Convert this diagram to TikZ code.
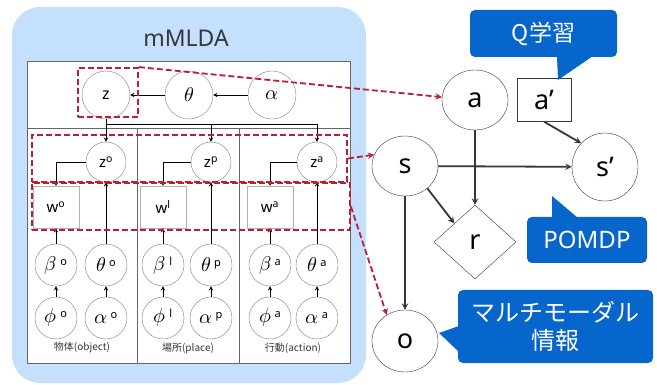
\documentclass[tikz,border=0pt]{standalone}
\usepackage{fontspec}
\usepackage{unicode-math}
\setmainfont{Noto Sans}
\setmathfont{Latin Modern Math}
\newfontfamily\jp{Noto Sans CJK JP}
\usetikzlibrary{shapes.geometric}

\definecolor{panelblue}{RGB}{197,224,252}
\definecolor{callblue}{RGB}{6,102,204}
\definecolor{dashred}{RGB}{190,30,50}
\definecolor{darkline}{RGB}{55,55,55}

% greek variable with a small upright index
\newcommand{\gvar}[2]{$#1$\,{\fontsize{11}{11}\selectfont\raisebox{5pt}{#2}}}

\begin{document}
\begin{tikzpicture}
  [x=1pt,y=-1pt,>=stealth,
   var/.style={draw=gray,circle,inner sep=0pt,minimum size=42pt,font=\fontsize{20}{20}\selectfont},
   topvar/.style={var,minimum size=48pt},
   midvar/.style={var,minimum size=40pt,font=\fontsize{15}{15}\selectfont},
   obs/.style={draw=gray!60,rectangle,inner sep=0pt,minimum width=46pt,minimum height=42pt,font=\fontsize{15}{15}\selectfont},
   link/.style={->,line width=0.9pt,black},
   redbox/.style={draw=dashred,line width=1.8pt,dash pattern=on 6pt off 3pt,inner sep=0pt},
   redarrow/.style={-{stealth[scale=1.3]},draw=dashred,line width=1.8pt,dash pattern=on 6pt off 3pt},
   mdpnode/.style={draw=darkline,ellipse,inner sep=0pt,minimum width=66pt,minimum height=60pt,font=\fontsize{27}{27}\selectfont},
   mdparrow/.style={->,draw=darkline,line width=1.8pt},
   bubble/.style={fill=callblue,rounded corners=5pt,text=white,inner sep=0pt,align=center},
   colname/.style={font=\jp\fontsize{10}{10}\selectfont,text=darkline}]
  \useasboundingbox (0,0) rectangle (657,385);

  % mMLDA panel
  \fill[panelblue,rounded corners=28pt] (12,7) rectangle (366,383);
  \node[font=\fontsize{23}{23}\selectfont,text=darkline] (title) at (186,38) {mMLDA};
  \draw[fill=white,draw=gray!80!black] (27,61) rectangle (350,363);
  \draw[gray!80!black] (27,128) -- (350,128);
  \draw[gray!80!black] (137,128) -- (137,363);
  \draw[gray!80!black] (239,128) -- (239,363);

  % shared topic
  \node (z) at (106,95)[topvar,font=\fontsize{16}{16}\selectfont]{z};
  \node (theta) at (189,95)[topvar]{$\theta$};
  \node (alpha) at (272,95)[topvar]{$\alpha$};
  \draw[link] (alpha) -- (theta);
  \draw[link] (theta) -- (z);
  \coordinate (split) at (106,124);
  \draw[line width=0.9pt] (z) -- (split);

  % object column
  \node (zo) at (106,162)[midvar]{z\textsuperscript{o}};
  \node (wo) at (56,207)[obs]{w\textsuperscript{o}};
  \node (bo) at (56,265)[var]{\gvar{\beta}{o}};
  \node (tho) at (106,265)[var]{\gvar{\theta}{o}};
  \node (fo) at (56,318)[var]{\gvar{\phi}{o}};
  \node (ao) at (106,318)[var]{\gvar{\alpha}{o}};
  \node (labo) at (82,348)[colname]{物体(object)};

  % place column
  \node (zp) at (211,162)[midvar]{z\textsuperscript{p}};
  \node (wl) at (163,207)[obs]{w\textsuperscript{l}};
  \node (bl) at (163,265)[var]{\gvar{\beta}{l}};
  \node (thp) at (211,265)[var]{\gvar{\theta}{p}};
  \node (fl) at (163,318)[var]{\gvar{\phi}{l}};
  \node (ap) at (211,318)[var]{\gvar{\alpha}{p}};
  \node (labp) at (188,348)[colname]{場所(place)};

  % action column
  \node (za) at (317,162)[midvar]{z\textsuperscript{a}};
  \node (wa) at (270,207)[obs]{w\textsuperscript{a}};
  \node (ba) at (270,265)[var]{\gvar{\beta}{a}};
  \node (tha) at (317,265)[var]{\gvar{\theta}{a}};
  \node (fa) at (270,318)[var]{\gvar{\phi}{a}};
  \node (aa) at (317,318)[var]{\gvar{\alpha}{a}};
  \node (laba) at (293,348)[colname]{行動(action)};

  \draw[link] (split) -- (zo);
  \draw[link] (split) -| (zp);
  \draw[link] (split) -| (za);
  \draw[link] (zo.west) -| (wo.north);
  \draw[link] (zp.west) -| (wl.north);
  \draw[link] (za.west) -| (wa.north);
  \draw[link] (bo) -- (wo);  \draw[link] (tho) -- (zo);
  \draw[link] (fo) -- (bo);  \draw[link] (ao) -- (tho);
  \draw[link] (bl) -- (wl);  \draw[link] (thp) -- (zp);
  \draw[link] (fl) -- (bl);  \draw[link] (ap) -- (thp);
  \draw[link] (ba) -- (wa);  \draw[link] (tha) -- (za);
  \draw[link] (fa) -- (ba);  \draw[link] (aa) -- (tha);

  % highlighted groups
  \node (zbox) at (108,92.5)[redbox,minimum width=60pt,minimum height=49pt]{};
  \node (zrow) at (189.5,158.5)[redbox,minimum width=315pt,minimum height=47pt]{};
  \node (wrow) at (191,206.5)[redbox,minimum width=318pt,minimum height=47pt]{};

  % POMDP
  \node (a) at (475,100)[mdpnode]{a};
  \node (aq) at (544,100)[draw=darkline,rectangle,inner sep=0pt,minimum width=54pt,minimum height=43pt,font=\fontsize{27}{27}\selectfont]{a’};
  \node (s) at (405,166)[mdpnode]{s};
  \node (sq) at (605,167)[mdpnode,minimum height=68pt]{s’};
  \node (r) at (475,242)[draw=darkline,diamond,inner sep=0pt,minimum width=82pt,minimum height=74pt,font=\fontsize{27}{27}\selectfont]{r};
  \node (o) at (405,341)[mdpnode,minimum height=62pt]{o};
  \draw[mdparrow] (a) -- (r);
  \draw[mdparrow] (s) -- (sq);
  \draw[mdparrow] (s.-45) -- (r.north west);
  \draw[mdparrow] (s) -- (o);
  \draw[mdparrow] (aq.south) -- (sq.135);

  \draw[redarrow] (zbox.north east) -- (a.175);
  \draw[redarrow] (zrow.east) -- (s.160);
  \draw[redarrow] (wrow.east) -- (o.125);

  % callouts
  \node (qlearn) at (543.5,33.5)[bubble,minimum width=147pt,minimum height=47pt,font=\jp\fontsize{23}{23}\selectfont]{Q学習};
  \fill[callblue] (558,80) -- (557,56) -- (593,56) -- cycle;
  \node (pomdp) at (587,240)[bubble,minimum width=120pt,minimum height=46pt,font=\fontsize{24}{24}\selectfont]{POMDP};
  \fill[callblue] (552,196) -- (552,218) -- (578,218) -- cycle;
  \node (multi) at (555.5,326.5)[bubble,minimum width=195pt,minimum height=73pt,font=\jp\fontsize{24}{28}\selectfont]{マルチモーダル\\情報};
  \fill[callblue] (439,333) -- (459,326) -- (459,352) -- cycle;
\end{tikzpicture}
\end{document}
